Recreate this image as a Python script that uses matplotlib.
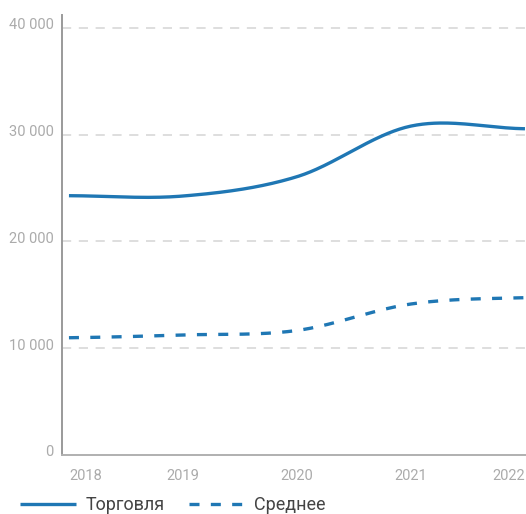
import matplotlib
matplotlib.use('Agg')
import matplotlib.pyplot as plt
import matplotlib.transforms as mtransforms
import numpy as np

years = [2018, 2019, 2020, 2021, 2022]
trade = [24280, 24250, 26060, 30800, 30550]
average = [10980, 11240, 11660, 14140, 14730]
y_ticks = [0, 10000, 20000, 30000, 40000]
y_tick_labels = ['0', '10 000', '20 000', '30 000', '40 000']

BLUE = '#1f77b4'
LABEL_GRAY = '#ababab'


def cardinal(xs, ys, n=60):
    # uniform Catmull-Rom through the yearly points, half-slope at the ends
    xs = np.asarray(xs, float)
    ys = np.asarray(ys, float)
    k = len(ys)
    m = np.empty(k)
    m[1:-1] = (ys[2:] - ys[:-2]) / 2
    m[0] = (ys[1] - ys[0]) / 2
    m[-1] = (ys[-1] - ys[-2]) / 2
    out_x, out_y = [], []
    t = np.linspace(0, 1, n)
    h00 = 2 * t**3 - 3 * t**2 + 1
    h10 = t**3 - 2 * t**2 + t
    h01 = -2 * t**3 + 3 * t**2
    h11 = t**3 - t**2
    for i in range(k - 1):
        out_x.append(xs[i] + t * (xs[i + 1] - xs[i]))
        out_y.append(h00 * ys[i] + h10 * m[i] + h01 * ys[i + 1] + h11 * m[i + 1])
    return np.concatenate(out_x), np.concatenate(out_y)


plt.rcParams['font.family'] = ['Roboto', 'DejaVu Sans']

fig = plt.figure(figsize=(5.26, 5.14), dpi=100)
ax = fig.add_axes([62 / 526, 59 / 514, 464 / 526, 440 / 514])

x_pos = np.arange(len(years))
xs, ys = cardinal(x_pos, trade)
ax.plot(xs, ys, color=BLUE, lw=2.4, solid_capstyle='butt', label='Торговля', zorder=3)
xs, ys = cardinal(x_pos, average)
ax.plot(xs, ys, color=BLUE, lw=2.4, dashes=(3.0, 3.4), dash_capstyle='butt',
        label='Среднее', zorder=3)

ax.set_xlim(-0.061, 4.009)
ax.set_ylim(0, 41200)

for v in y_ticks[1:]:
    ax.axhline(v, color='#d4d4d4', lw=1.1, dashes=(6, 5), zorder=1)

ax.set_yticks(y_ticks)
ax.set_yticklabels(y_tick_labels)
ax.set_xticks(x_pos)
ax.set_xticklabels([str(y) for y in years])
ax.tick_params(axis='both', length=0, colors=LABEL_GRAY, labelsize=10.5)
ax.tick_params(axis='y', pad=6)
ax.tick_params(axis='x', pad=10)

# lift y labels a little above their gridlines
lift = mtransforms.ScaledTranslation(0, 4 / 100, fig.dpi_scale_trans)
for lbl in ax.get_yticklabels():
    lbl.set_transform(lbl.get_transform() + lift)
xl = ax.get_xticklabels()
xl[0].set_ha('left')
xl[-1].set_ha('right')

for side in ('top', 'right'):
    ax.spines[side].set_visible(False)
ax.spines['left'].set_color('#9a9a9a')
ax.spines['left'].set_linewidth(1.4)
ax.spines['bottom'].set_color('#b0b0b0')
ax.spines['bottom'].set_linewidth(1.4)

fig.legend(loc='center left', bbox_to_anchor=(20 / 526, 9 / 514), ncol=2,
           frameon=False, fontsize=13, labelcolor='#444444',
           handlelength=3.1, handletextpad=0.55, columnspacing=1.3,
           borderpad=0, borderaxespad=0)

fig.savefig('out.png', dpi=100)
